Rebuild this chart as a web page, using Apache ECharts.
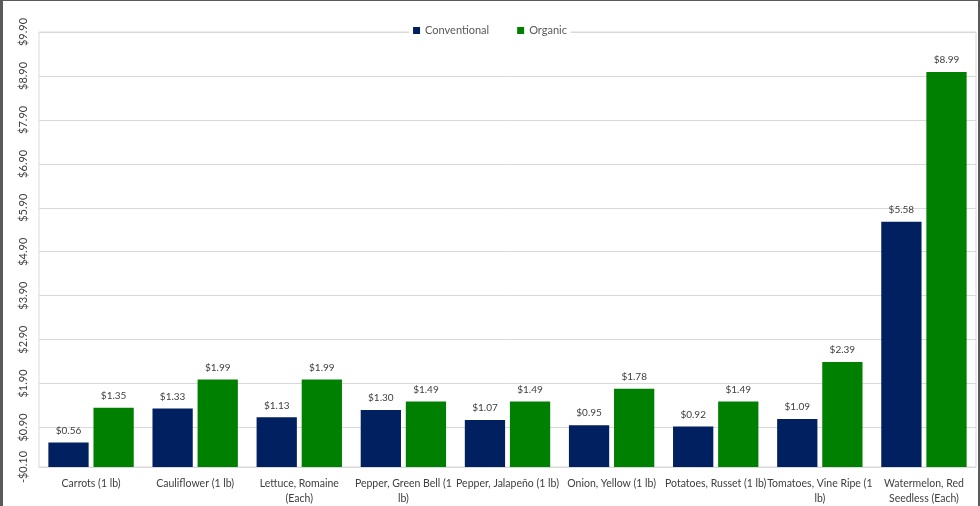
<!DOCTYPE html>
<html><head><meta charset="utf-8">
<script src="https://cdn.jsdelivr.net/npm/echarts@6/dist/echarts.min.js"></script>
<style>
html,body{margin:0;padding:0;background:#fff;}
#frame{position:absolute;left:0;top:0;width:980px;height:506px;box-sizing:border-box;border-left:3px solid #5a5a5a;border-right:2px solid #5a5a5a;border-top:1px solid #5a5a5a;}
#c{position:absolute;left:0;top:0;width:980px;height:506px;}
</style></head>
<body><div id="c"></div><div id="frame"></div>
<script>
const categories = ["Carrots (1 lb)","Cauliflower (1 lb)","Lettuce, Romaine (Each)","Pepper, Green Bell (1 lb)","Pepper, Jalapeño (1 lb)","Onion, Yellow (1 lb)","Potatoes, Russet (1 lb)","Tomatoes, Vine Ripe (1 lb)","Watermelon, Red Seedless (Each)"];
const xTickLabels = ["Carrots (1 lb)","Cauliflower (1 lb)","Lettuce, Romaine\n(Each)","Pepper, Green Bell (1\nlb)","Pepper, Jalapeño (1 lb)","Onion, Yellow (1 lb)","Potatoes, Russet (1 lb)","Tomatoes, Vine Ripe (1\nlb)","Watermelon, Red\nSeedless (Each)"];
const conventional = [0.56,1.33,1.13,1.30,1.07,0.95,0.92,1.09,5.58];
const organic = [1.35,1.99,1.99,1.49,1.49,1.78,1.49,2.39,8.99];
const tickValues = [0,0.9,1.9,2.9,3.9,4.9,5.9,6.9,7.9,8.9,9.9];
const tickLabels = ["-$0.10","$0.90","$1.90","$2.90","$3.90","$4.90","$5.90","$6.90","$7.90","$8.90","$9.90"];

const FONT = 'Lato';
const chart = echarts.init(document.getElementById('c'));
chart.setOption({
  animation:false,
  textStyle:{fontFamily:FONT},
  legend:{
    top:24, left:'center', itemWidth:7, itemHeight:7, itemGap:28, icon:'rect',
    backgroundColor:'#fff', padding:[1,4],
    textStyle:{fontFamily:FONT,fontSize:11,color:'#595959'}
  },
  grid:{left:39,right:4,top:32,bottom:34,show:true,borderColor:'#d9d9d9',borderWidth:1,containLabel:false},
  xAxis:{
    type:'category', data:categories,
    axisLine:{show:true,lineStyle:{color:'#d9d9d9'}},
    axisTick:{show:false},
    axisLabel:{fontFamily:FONT,fontSize:10.5,color:'#404040',margin:9,interval:0,lineHeight:15,
      formatter:function(v,i){return xTickLabels[i];}}
  },
  yAxis:{
    type:'value', min:0, max:9.9,
    axisLine:{show:false}, axisTick:{show:false, customValues:tickValues},
    splitLine:{show:true,lineStyle:{color:'#d9d9d9',width:1}},
    axisLabel:{
      customValues:tickValues, rotate:90, margin:10, fontFamily:FONT, fontSize:11, color:'#404040',
      formatter:function(v){const i=tickValues.findIndex(t=>Math.abs(t-v)<1e-6);return i>=0?tickLabels[i]:'';}
    }
  },
  series:[
    {name:'Conventional',type:'bar',data:conventional,itemStyle:{color:'#002060'},barGap:'12%',barCategoryGap:'18%',
     label:{show:true,position:'top',distance:7,fontFamily:FONT,fontSize:10,color:'#404040',formatter:p=>'$'+p.value.toFixed(2)}},
    {name:'Organic',type:'bar',data:organic,itemStyle:{color:'#008000'},
     label:{show:true,position:'top',distance:7,fontFamily:FONT,fontSize:10,color:'#404040',formatter:p=>'$'+p.value.toFixed(2)}}
  ]
});
</script></body></html>
